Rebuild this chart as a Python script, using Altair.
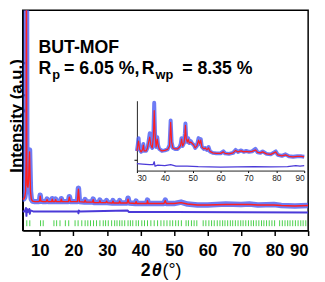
import altair as alt
import pandas as pd

# ---------------- main pattern (2theta, intensity a.u.) ----------------
main_tt = [4.0, 4.4, 4.8, 5.2, 5.5, 5.75, 5.9, 6.0, 6.1, 6.25, 6.45, 6.65, 6.8, 6.92, 7.05, 7.2, 7.45, 7.8,
           8.5, 9.5, 9.9, 10.1, 10.3, 11.0, 11.9, 12.15, 12.4, 13.5, 13.7, 13.9, 14.5, 14.7, 14.9, 16.2, 16.4,
           16.6, 18.5, 18.8, 19.1, 21.2, 21.5, 21.8, 23.3, 23.5, 23.7, 25.7, 25.9, 26.1, 27.7, 27.9, 28.1,
           29.7, 29.9, 30.1, 31.6, 31.8, 32.0, 33.6, 33.8, 34.0, 36.0, 36.3, 36.6, 38.5, 38.7, 38.9, 41.9,
           42.1, 42.3, 47.0, 47.4, 47.7, 50.0, 52.1, 54.0, 57.0, 60.0, 65.4, 70.0, 72.5, 75.0, 79.8, 82.0,
           86.0, 90.0]
main_obs = [36, 34, 32, 32, 34, 40, 70, 300, 70, 46, 44, 52, 70, 82, 62, 40, 32, 30,
            29.5, 29.5, 30, 36, 30, 29.5, 29.5, 32, 29.5, 29.5, 32.5, 29.5, 29.5, 32, 29.5, 29.5, 32.5,
            29.5, 29.5, 34.5, 29.5, 29.5, 43, 29.5, 29, 31.5, 29, 29, 32, 28.5, 28.5, 31, 28.5,
            28.5, 30.5, 28.5, 28, 30.5, 28, 28, 30.5, 28, 28, 33, 28, 27.5, 30, 27.5, 27.5,
            31, 27.5, 27.5, 31, 27.5, 27.5, 29, 27, 26, 26, 27, 26.5, 27, 26, 26.5, 25.5,
            25, 25.5]
main_calc = [36, 34, 32, 32, 34, 40, 70, 300, 70, 46, 44, 52, 70, 80, 62, 40, 32, 30,
             29.5, 29.5, 30, 35, 30, 29.5, 29.5, 31.5, 29.5, 29.5, 32, 29.5, 29.5, 31.5, 29.5, 29.5, 32,
             29.5, 29.5, 34, 29.5, 29.5, 42, 29.5, 29, 31, 29, 29, 31.5, 28.5, 28.5, 30.5, 28.5,
             28.5, 30, 28.5, 28, 30, 28, 28, 30, 28, 28, 32, 28, 27.5, 29.5, 27.5, 27.5,
             30.5, 27.5, 27.5, 30.5, 27.5, 27.5, 28.5, 27, 26, 26, 26.5, 26.5, 26.5, 26, 26, 25.5,
             25, 25.5]
diff_tt = [4.0, 5.5, 5.85, 6.0, 6.15, 6.5, 6.85, 7.0, 7.2, 8.0, 21.4, 21.5, 21.6, 22.0, 36.2, 36.5, 50.0, 90.0]
diff_val = [20, 19.5, 23, 15, 22, 19, 22, 17, 20.5, 19.5, 19.5, 17.5, 20.5, 19.5, 20.5, 19, 19, 18.5]

bragg_pos = [6.1, 7.0, 10.2, 11.0, 14.2, 15.0, 16.0, 17.6, 18.6, 20.5, 21.4, 22.5, 23.5, 24.3, 25.1, 26.0,
             26.9, 27.9, 28.9, 29.6, 30.4, 31.4, 32.3, 33.0, 33.8, 34.5, 35.3, 36.3, 37.0, 37.7, 38.7, 39.4,
             40.4, 41.2, 42.1, 43.1, 44.1, 45.1, 46.1, 47.0, 47.9, 48.8, 49.6, 50.5, 51.3, 52.2, 53.6, 54.3,
             55.2, 56.0, 56.8, 58.7, 59.5, 60.4, 61.2, 62.0, 62.9, 63.7, 64.5, 65.2, 66.0, 66.8, 67.5, 68.3,
             69.1, 69.9, 70.6, 71.4, 72.2, 73.0, 73.7, 74.5, 75.3, 76.1, 76.8, 77.6, 78.4, 79.2, 80.0, 81.5,
             82.3, 83.1, 83.9, 84.6, 85.4, 86.2, 87.0, 87.8, 88.5, 89.3]

# ---------------- inset (30-90 deg) ----------------
inset_tt = [30.0, 30.3, 30.6, 30.9, 31.5, 32.0, 32.3, 32.6, 33.3, 33.8, 34.2, 34.6, 35.0, 35.5, 35.9, 36.2,
            36.5, 36.9, 37.3, 37.6, 38.0, 39.0, 40.0, 41.0, 41.7, 42.1, 42.45, 42.9, 43.7, 44.6, 45.3, 45.7,
            46.0, 46.4, 46.9, 47.2, 47.4, 47.7, 48.1, 48.4, 48.8, 49.3, 49.7, 50.4, 50.9, 51.5, 52.1, 52.5,
            52.9, 53.3, 54.0, 54.5, 55.1, 55.7, 56.2, 57.2, 58.5, 60.0, 61.0, 61.6, 63.0, 64.5, 65.4, 66.2,
            67.4, 68.3, 69.2, 70.2, 71.3, 72.5, 73.3, 74.3, 75.1, 76.5, 78.0, 79.8, 80.5, 82.0, 83.3, 84.5,
            86.0, 87.5, 89.0, 90.0]
inset_obs = [20, 26, 33, 22, 19, 21, 27, 20, 20, 23, 30, 38, 26, 23, 36, 69,
             38, 24, 34, 26, 22, 20, 20.5, 21.5, 26, 51, 29, 23, 22, 22, 24, 27,
             33, 25, 28, 38, 48, 33, 29, 33, 28, 30, 28, 26, 23, 25, 33, 27,
             32, 24, 22, 23, 21, 24, 19.5, 18, 17.5, 17.5, 19.5, 17.5, 17, 18, 21, 19,
             20.5, 19, 20, 19, 19.5, 22, 18.5, 18, 19.5, 17, 16.5, 19.5, 16, 15, 16.5, 14.5,
             14, 14.5, 14.5, 14]
inset_calc = [20, 25, 30, 22, 19, 21, 26, 20, 20, 23, 29, 34, 26, 23, 34, 61,
              37, 24, 32, 26, 22, 20, 20.5, 21.5, 25, 49, 29, 23, 22, 22, 24, 26,
              32, 25, 28, 36, 46, 32, 29, 32, 28, 29, 28, 26, 23, 25, 31, 27,
              31, 24, 22, 23, 21, 23, 19.5, 18, 17.5, 17.5, 19, 17.5, 17, 18, 20.5, 19,
              20, 19, 19.5, 19, 19.5, 21, 18.5, 18, 19, 17, 16.5, 19, 16, 15, 16, 14.5,
              14, 14.5, 14.5, 14]
inset_diff_tt = [30, 32, 34.5, 35.8, 36.2, 36.5, 37.5, 40, 42.1, 44, 48, 52, 56, 60, 66, 72, 78, 84, 87, 88.5, 90]
inset_diff = [7, 6.5, 6, 6, 9, 4.5, 5.5, 5, 6, 4.5, 4.5, 4, 3.8, 3.5, 3.8, 4, 3.8, 4, 5, 4.5, 5]

FONT = "Liberation Sans"
BLUE = "#4a5af2"
RED = "#ff1f1f"
DIFF = "#4b3ad8"
GREEN = "#48d048"

main_df = pd.DataFrame({"tt": main_tt, "obs": main_obs, "calc": main_calc})
diff_df = pd.DataFrame({"tt": diff_tt, "d": diff_val})
bragg_df = pd.DataFrame({"pos": bragg_pos})
inset_df = pd.DataFrame({"tt": inset_tt, "obs": inset_obs, "calc": inset_calc})
inset_diff_df = pd.DataFrame({"tt": inset_diff_tt, "d": inset_diff})

PW, PH = 290, 224

xs_main = alt.Scale(domain=[4.9, 90], nice=False, zero=False)
ys_main = alt.Scale(domain=[0, 224], nice=False, zero=False)
x_axis = alt.Axis(values=[10, 20, 30, 40, 50, 60, 70, 80, 90], title=None, labelFontSize=17,
                  labelFont=FONT, labelFontWeight="bold", labelColor="black", tickSize=5,
                  tickColor="black", tickWidth=1.5, domainColor="black", domainWidth=1.5,
                  labelPadding=7, grid=False)
y_axis = alt.Axis(title="Intensity (a.u.)", labels=False, ticks=False, domainColor="black",
                  domainWidth=1.5, titleFontSize=17, titleFont=FONT, titleFontWeight="bold",
                  titleColor="black", titleX=-1.5, titleY=107, titleBaseline="alphabetic",
                  titleAngle=270, titleAlign="center", grid=False)

def mx(field):
    return alt.X(field, scale=xs_main, axis=x_axis)

def my(field):
    return alt.Y(field, scale=ys_main, axis=y_axis)

obs_main = alt.Chart(main_df).mark_line(color=BLUE, strokeWidth=5.5, opacity=0.8, strokeJoin="round",
                                        clip=True).encode(x=mx("tt:Q"), y=my("obs:Q"))
calc_main = alt.Chart(main_df).mark_line(color=RED, strokeWidth=1.4, strokeJoin="round", clip=True).encode(
    x=mx("tt:Q"), y=my("calc:Q"))
diff_main = alt.Chart(diff_df).mark_line(color=DIFF, strokeWidth=2, strokeJoin="round", clip=True).encode(
    x=mx("tt:Q"), y=my("d:Q"))
bragg = alt.Chart(bragg_df).mark_rule(color=GREEN, strokeWidth=1, clip=True).encode(
    x=mx("pos:Q"), y=alt.Y(datum=4.5, scale=ys_main, axis=y_axis), y2=alt.datum(10.5))

def label(txt, x, y, size=18, weight="bold", style="normal"):
    return alt.Chart(pd.DataFrame({"t": [txt]})).mark_text(
        align="left", baseline="alphabetic", font=FONT, fontSize=size, fontWeight=weight,
        fontStyle=style, color="black").encode(x=alt.value(x), y=alt.value(y), text="t:N")

texts = [
    label("BUT-MOF", 16, 44),
    label("R", 16, 65),
    label("p", 30, 69.5, size=13),
    label("= 6.05 %,", 42, 65),
    label("R", 121, 65),
    label("wp", 135, 69.5, size=13),
    label("= 8.35 %", 162, 65),
    label("2", 120, 270),
    label("θ", 131, 270, style="italic"),
    label("(°)", 142, 270, weight="normal"),
]

main = alt.layer(obs_main, calc_main, diff_main, bragg, *texts)

xs_in = alt.Scale(domain=[30, 90], range=[116, 286], nice=False, zero=False)
ys_in = alt.Scale(domain=[0, 71], range=[163, 92], nice=False, zero=False)
x_in_axis = alt.Axis(orient="bottom", offset=163 - PH, values=[30, 40, 50, 60, 70, 80, 90], title=None,
                     labelFontSize=8.5, labelFont=FONT, labelColor="#222222", tickSize=2,
                     tickColor="black", domainColor="#222222", domainWidth=1, labelPadding=1,
                     grid=False)
y_in_axis = alt.Axis(orient="left", offset=-116, labels=False, values=[11], tickSize=3,
                     tickColor="black", domainColor="#222222", domainWidth=1, title=None, grid=False)

obs_in = alt.Chart(inset_df).mark_line(color=BLUE, strokeWidth=4, opacity=0.8, strokeJoin="round").encode(
    x=alt.X("tt:Q", scale=xs_in, axis=x_in_axis), y=alt.Y("obs:Q", scale=ys_in, axis=y_in_axis))
calc_in = alt.Chart(inset_df).mark_line(color=RED, strokeWidth=1.2, strokeJoin="round").encode(
    x=alt.X("tt:Q", scale=xs_in, axis=x_in_axis), y=alt.Y("calc:Q", scale=ys_in, axis=y_in_axis))
diff_in = alt.Chart(inset_diff_df).mark_line(color=DIFF, strokeWidth=1.3, strokeJoin="round").encode(
    x=alt.X("tt:Q", scale=xs_in, axis=x_in_axis), y=alt.Y("d:Q", scale=ys_in, axis=y_in_axis))

inset = alt.layer(obs_in, calc_in, diff_in)

chart = alt.layer(main, inset).resolve_scale(x="independent", y="independent").properties(
    width=PW, height=PH,
    autosize=alt.AutoSizeParams(type="none"),
    padding={"left": 15, "top": 0, "right": 9, "bottom": 50},
).configure_view(stroke="black", strokeWidth=1.5).configure_axis(grid=False)

chart.save("out.html", embed_options={"renderer": "svg", "actions": False})
